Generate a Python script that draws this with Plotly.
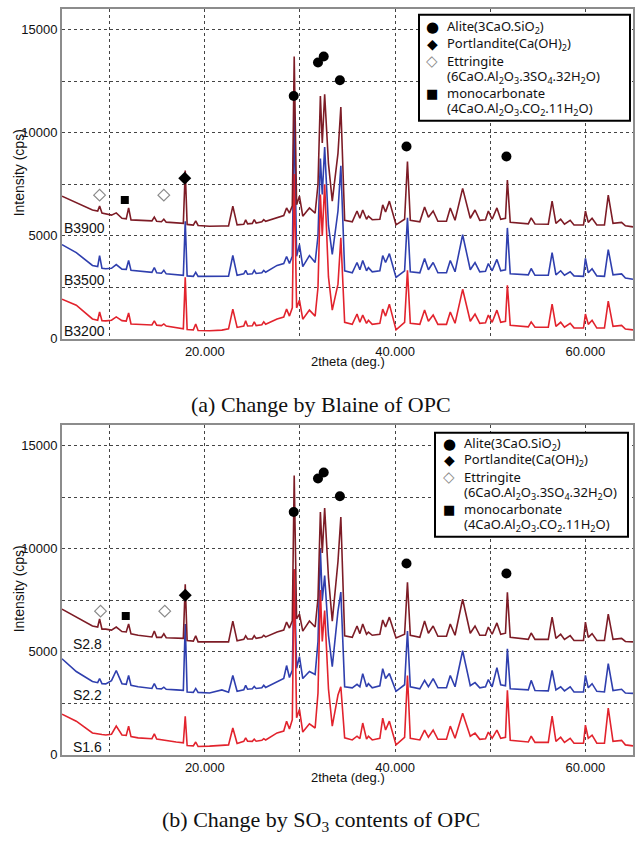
import plotly.graph_objects as go

# ---------------- data ----------------
two_theta = [5.0, 6.5, 8.2, 8.75, 8.95, 9.2, 9.6, 10.2, 10.7, 11.3, 11.75, 12.0, 12.25, 13.0,
             14.45, 14.7, 14.95, 15.45, 15.7, 15.95, 17.0, 17.75, 17.95, 18.15, 18.8, 19.05,
             19.3, 20.5, 21.8, 22.5, 22.95, 23.4, 24.1, 24.3, 24.5, 25.0, 25.2, 25.4, 26.0,
             26.2, 26.4, 27.6, 28.3, 28.6, 28.9, 29.2, 29.4, 29.65, 29.95, 30.3, 31.0, 31.6,
             31.9, 32.15, 32.35, 32.6, 33.0, 33.4, 34.0, 34.3, 34.7, 35.5, 36.0, 36.3, 36.6,
             37.0, 37.2, 37.6, 38.4, 38.7, 39.0, 39.4, 40.1, 41.0, 41.3, 41.6, 42.6, 43.1,
             43.5, 44.0, 44.5, 45.4, 45.8, 46.3, 47.1, 47.9, 48.4, 48.9, 49.5, 49.8, 50.2,
             50.7, 51.1, 51.6, 51.8, 52.1, 54.0, 54.3, 54.7, 56.1, 56.5, 56.9, 57.4, 57.8,
             58.4, 58.8, 59.8, 60.0, 60.3, 60.7, 61.2, 62.0, 62.4, 62.9, 63.8, 64.2, 65.0]

b3900 = [6920, 6590, 6250, 6200, 6440, 6100, 6050, 6000, 6110, 5850, 5820, 6350, 5770, 5760,
         5720, 5910, 5700, 5680, 5800, 5660, 5630, 5600, 8170, 5550, 5520, 5720,
         5500, 5460, 5470, 5480, 6440, 5530, 5560, 5770, 5580, 5600, 5780, 5620, 5680,
         5780, 5700, 5870, 5980, 6350, 6100, 6450, 13700, 6500, 6920, 5950, 6350, 6100,
         7500, 11780, 9500, 11870, 8500, 6680, 9000, 11250, 5750, 5680, 6200, 5850, 6250,
         5800, 5950, 5780, 5800, 6500, 6150, 6680, 5530, 5800, 8600, 5750, 5680, 6400,
         5900, 6200, 5700, 5700, 6350, 5750, 7300, 5850, 6250, 5750, 5780, 6200, 5800,
         6350, 5800, 5850, 7700, 5650, 5580, 5870, 5570, 5560, 6680, 5600, 5800, 5560,
         5750, 5520, 5520, 6200, 5650, 5850, 5520, 5520, 6970, 5600, 5650, 5480, 5430]

b3500 = [4570, 4180, 3560, 3500, 4040, 3420, 3400, 3420, 3600, 3380, 3370, 3800, 3320, 3280,
         3220, 3460, 3200, 3180, 3320, 3150, 3100, 3080, 5700, 3050, 3030, 3220,
         3030, 3020, 3030, 3040, 4040, 3080, 3150, 3320, 3130, 3150, 3320, 3170, 3200,
         3320, 3230, 3560, 3650, 3990, 3650, 4000, 11100, 4000, 4570, 3500, 4040, 3700,
         5000, 8750, 7000, 9300, 5500, 4090, 6200, 8400, 3300, 3200, 3700, 3350, 3800,
         3300, 3450, 3250, 3300, 4040, 3700, 4130, 2980, 3300, 5870, 3250, 3200, 3900,
         3350, 3700, 3200, 3200, 3800, 3250, 5050, 3350, 3700, 3250, 3280, 3650, 3300,
         3850, 3300, 3350, 5380, 3150, 3100, 3410, 3080, 3080, 4180, 3100, 3300, 3080,
         3250, 3050, 3030, 3900, 3200, 3400, 3050, 3030, 4330, 3100, 3150, 2950, 2890]

b3200 = [1920, 1630, 960, 900, 1300, 880, 870, 900, 1060, 880, 860, 1250, 720, 700,
         670, 870, 660, 640, 720, 620, 520, 480, 2980, 450, 430, 720,
         400, 390, 420, 480, 1440, 550, 620, 870, 620, 630, 820, 640, 680,
         820, 700, 960, 1050, 1440, 1100, 1500, 8000, 1500, 1870, 950, 1390, 1100,
         2500, 7000, 5000, 7500, 3000, 1390, 2650, 4900, 800, 700, 1200, 800, 1150,
         750, 900, 700, 750, 1440, 1100, 1680, 430, 800, 3320, 750, 700, 1390,
         850, 1150, 700, 700, 1300, 750, 2400, 850, 1200, 750, 780, 1150, 800,
         1390, 800, 850, 2600, 650, 580, 820, 560, 560, 1680, 600, 800, 560,
         750, 530, 520, 1200, 700, 900, 520, 520, 1830, 600, 650, 470, 430]

s28 = [7070, 6680, 6250, 6200, 6590, 6100, 6100, 6050, 6200, 5980, 5960, 6350, 5870, 5800,
       5720, 6010, 5700, 5700, 5870, 5680, 5650, 5650, 8270, 5550, 5520, 5770,
       5480, 5470, 5480, 5480, 6490, 5530, 5600, 5770, 5620, 5620, 5780, 5650, 5700,
       5800, 5720, 5960, 6050, 6440, 6150, 6500, 13560, 6600, 6830, 6000, 6490, 6200,
       7600, 11780, 9800, 11970, 8600, 6490, 9380, 11540, 5770, 5700, 6250, 5880, 6350,
       5850, 5950, 5800, 5850, 6540, 6200, 6680, 5670, 5850, 8370, 5800, 5700, 6490,
       5900, 6250, 5750, 5750, 6350, 5800, 7550, 5900, 6250, 5800, 5800, 6200, 5850,
       6400, 5850, 5900, 7890, 5700, 5600, 5910, 5600, 5600, 6680, 5650, 5850, 5600,
       5780, 5550, 5550, 6440, 5700, 5880, 5550, 5550, 6830, 5600, 5650, 5500, 5480]

s22 = [4660, 4040, 3560, 3500, 3700, 3450, 3440, 3600, 4090, 3450, 3420, 3850, 3370, 3300,
       3220, 3460, 3220, 3200, 3280, 3180, 3150, 3130, 6350, 3050, 3030, 3220,
       3030, 3000, 3150, 3040, 3850, 3080, 3150, 3370, 3180, 3200, 3320, 3220, 3250,
       3370, 3270, 3560, 3700, 4330, 3750, 4100, 9000, 4200, 4760, 3700, 4040, 3900,
       5500, 10000, 7500, 8700, 5800, 4280, 6970, 7900, 3300, 3250, 3420, 3300, 3940,
       3300, 3450, 3250, 3350, 4180, 3700, 3940, 3080, 3400, 6010, 3300, 3200, 3610,
       3300, 3700, 3250, 3250, 3850, 3300, 5050, 3350, 3500, 3250, 3300, 3650, 3300,
       4230, 3400, 3350, 5140, 3200, 3150, 3610, 3120, 3100, 4090, 3150, 3300, 3100,
       3300, 3050, 3050, 3850, 3250, 3450, 3080, 3050, 4420, 3120, 3180, 3000, 2980]

s16 = [1970, 1630, 1060, 1000, 1000, 980, 960, 1000, 1390, 960, 940, 1390, 880, 820,
       780, 1010, 760, 720, 720, 700, 620, 580, 1870, 450, 430, 620,
       400, 420, 460, 480, 1300, 550, 650, 820, 660, 650, 760, 660, 700,
       780, 720, 1060, 1150, 1630, 1250, 1700, 9000, 1800, 2200, 1100, 1500, 1300,
       3000, 8000, 5500, 7000, 3200, 1390, 2900, 3300, 820, 720, 900, 780, 1540,
       760, 900, 720, 800, 1780, 1200, 1630, 480, 850, 3850, 800, 720, 1200,
       850, 1200, 750, 750, 1390, 800, 2020, 900, 1050, 750, 780, 1100, 800,
       1200, 800, 850, 3130, 700, 620, 900, 600, 600, 1870, 650, 850, 600,
       800, 560, 560, 1440, 800, 950, 560, 560, 2260, 650, 700, 480, 430]

# phase markers (2theta, intensity)
alite_a_x = [29.35, 31.9, 32.5, 34.2, 41.2, 51.7]
alite_a_y = [11780, 13410, 13700, 12550, 9330, 8850]
alite_b_x = [29.35, 31.9, 32.5, 34.2, 41.2, 51.7]
alite_b_y = [11780, 13410, 13700, 12550, 9280, 8800]
portlandite_a_x, portlandite_a_y = [17.9], [7790]
portlandite_b_x, portlandite_b_y = [17.95], [7740]
ettringite_a_x, ettringite_a_y = [8.95, 15.7], [6970, 6970]
ettringite_b_x, ettringite_b_y = [9.05, 15.8], [6970, 6970]
monocarb_a_x, monocarb_a_y = [11.6], [6730]
monocarb_b_x, monocarb_b_y = [11.7], [6730]

x_tick_vals = [20, 40, 60]
x_tick_text = ["20.000", "40.000", "60.000"]
x_minor_grid = [10, 30, 50]
y_tick_vals = [0, 5000, 10000, 15000]
y_tick_text = ["0", "5000", "10000", "15000"]
y_minor_grid = [2500, 7500, 12500]

legend_lines = ["Alite(3CaO.SiO<sub>2</sub>)",
                "Portlandite(Ca(OH)<sub>2</sub>)",
                "Ettringite",
                "(6CaO.Al<sub>2</sub>O<sub>3</sub>.3SO<sub>4</sub>.32H<sub>2</sub>O)",
                "monocarbonate",
                "(4CaO.Al<sub>2</sub>O<sub>3</sub>.CO<sub>2</sub>.11H<sub>2</sub>O)"]

# ---------------- styling ----------------
W, H = 639, 843
MAROON = "#7d1c26"
BLUE = "#2f3fae"
RED = "#e2232d"
SANS = "Liberation Sans, Arial, sans-serif"
LEG_FONT = "Noto Sans, sans-serif"
SERIF = "Liberation Serif, Times New Roman, serif"


def pxx(x):
    return x / W


def pyy(y):
    return 1 - y / H


fig = go.Figure()

panels = [
    dict(xa="x", ya="y",
         series=[("B3500", b3500, BLUE), ("B3200", b3200, RED), ("B3900", b3900, MAROON)],
         labels=[("B3900", 5.05, 5385), ("B3500", 5.05, 2840), ("B3200", 5.05, 385)],
         alite=(alite_a_x, alite_a_y), port=(portlandite_a_x, portlandite_a_y),
         ett=(ettringite_a_x, ettringite_a_y), mono=(monocarb_a_x, monocarb_a_y),
         leg_box=(419, 15, 630, 122), leg_sym_x=432, leg_txt_x=445,
         leg_y=[27, 44, 62, 78, 94, 110],
         ytitle_y=175, xtitle_y=365,
         caption="(a) Change by Blaine of OPC", cap_y=408),
    dict(xa="x2", ya="y2",
         series=[("S2.2", s22, BLUE), ("S1.6", s16, RED), ("S2.8", s28, MAROON)],
         labels=[("S2.8", 5.9, 5385), ("S2.2", 5.9, 2885), ("S1.6", 5.9, 385)],
         alite=(alite_b_x, alite_b_y), port=(portlandite_b_x, portlandite_b_y),
         ett=(ettringite_b_x, ettringite_b_y), mono=(monocarb_b_x, monocarb_b_y),
         leg_box=(435, 437, 628, 542), leg_sym_x=449, leg_txt_x=462,
         leg_y=[448, 464, 482, 498, 514, 530],
         ytitle_y=595, xtitle_y=785,
         caption="(b) Change by SO<sub>3</sub> contents of OPC", cap_y=829),
]

annotations = []
shapes = []

for i, p in enumerate(panels):
    for name, ys, col in p["series"]:
        fig.add_trace(go.Scatter(x=two_theta, y=ys, mode="lines", name=name,
                                 line=dict(color=col, width=1.6),
                                 xaxis=p["xa"], yaxis=p["ya"], showlegend=False,
                                 hoverinfo="skip"))
    fig.add_trace(go.Scatter(x=p["alite"][0], y=p["alite"][1], mode="markers",
                             marker=dict(symbol="circle", size=10, color="black"),
                             xaxis=p["xa"], yaxis=p["ya"], showlegend=False))
    fig.add_trace(go.Scatter(x=p["port"][0], y=p["port"][1], mode="markers",
                             marker=dict(symbol="diamond", size=10, color="black"),
                             xaxis=p["xa"], yaxis=p["ya"], showlegend=False))
    fig.add_trace(go.Scatter(x=p["ett"][0], y=p["ett"][1], mode="markers",
                             marker=dict(symbol="diamond-open", size=9, color="#8a8a8a",
                                         line=dict(width=1.2, color="#8a8a8a")),
                             xaxis=p["xa"], yaxis=p["ya"], showlegend=False))
    fig.add_trace(go.Scatter(x=p["mono"][0], y=p["mono"][1], mode="markers",
                             marker=dict(symbol="square", size=8, color="black"),
                             xaxis=p["xa"], yaxis=p["ya"], showlegend=False))

    for txt, lx, ly in p["labels"]:
        annotations.append(dict(text=txt, x=lx, y=ly, xref=p["xa"], yref=p["ya"],
                                xanchor="left", yanchor="middle", showarrow=False,
                                font=dict(family=SANS, size=14, color="#111")))

    # legend box
    x0, y0, x1, y1 = p["leg_box"]
    shapes.append(dict(type="rect", xref="paper", yref="paper",
                       x0=pxx(x0), x1=pxx(x1), y0=pyy(y1), y1=pyy(y0),
                       line=dict(color="black", width=2), fillcolor="white", layer="above"))
    syms = [("●", "black", 15), ("◆", "black", 14), ("◇", "#8a8a8a", 15), None,
            ("■", "black", 13), None]
    for k, line_txt in enumerate(legend_lines):
        annotations.append(dict(text=line_txt, x=pxx(p["leg_txt_x"]), y=pyy(p["leg_y"][k]),
                                xref="paper", yref="paper", xanchor="left", yanchor="middle",
                                showarrow=False,
                                font=dict(family=LEG_FONT, size=13, color="#111")))
        if syms[k] is not None:
            s, c, fs = syms[k]
            annotations.append(dict(text=s, x=pxx(p["leg_sym_x"]), y=pyy(p["leg_y"][k]),
                                    xref="paper", yref="paper", xanchor="center",
                                    yanchor="middle", showarrow=False,
                                    font=dict(family="DejaVu Sans", size=fs, color=c)))

    annotations.append(dict(text="Intensity (cps)", x=pxx(19), y=pyy(p["ytitle_y"]),
                            xref="paper", yref="paper", textangle=-90, showarrow=False,
                            xanchor="center", yanchor="middle",
                            font=dict(family=SANS, size=14, color="#111")))
    annotations.append(dict(text="2theta (deg.)", x=pxx(348), y=pyy(p["xtitle_y"]),
                            xref="paper", yref="paper", showarrow=False,
                            xanchor="center", yanchor="middle",
                            font=dict(family=SANS, size=13, color="#111")))
    annotations.append(dict(text=p["caption"], x=pxx(321), y=pyy(p["cap_y"]),
                            xref="paper", yref="paper", showarrow=False,
                            xanchor="center", yanchor="middle",
                            font=dict(family=SERIF, size=22, color="#111")))

grid_style = dict(showgrid=True, gridcolor="#444", griddash="dot", gridwidth=1)
axis_common_x = dict(range=[5, 65], tickvals=x_tick_vals, ticktext=x_tick_text,
                     minor=dict(tickvals=x_minor_grid, ticks="", **grid_style),
                     showline=True, linecolor="#8c8c8c", linewidth=2, mirror=True,
                     ticks="", zeroline=False,
                     tickfont=dict(family=SANS, size=13, color="#111"), **grid_style)
axis_common_y = dict(range=[0, 16010], tickvals=y_tick_vals, ticktext=y_tick_text,
                     minor=dict(tickvals=y_minor_grid, ticks="", **grid_style),
                     showline=True, linecolor="#8c8c8c", linewidth=2, mirror=True,
                     ticks="", zeroline=False,
                     tickfont=dict(family=SANS, size=13, color="#111"), **grid_style)

xdom = [pxx(62), pxx(633)]
fig.update_layout(
    width=W, height=H,
    margin=dict(l=0, r=0, t=0, b=0),
    paper_bgcolor="white", plot_bgcolor="white",
    showlegend=False,
    xaxis=dict(domain=xdom, anchor="y", **axis_common_x),
    yaxis=dict(domain=[pyy(342), pyy(9)], anchor="x", **axis_common_y),
    xaxis2=dict(domain=xdom, anchor="y2", **axis_common_x),
    yaxis2=dict(domain=[pyy(762), pyy(429)], anchor="x2", **axis_common_y),
    annotations=annotations,
    shapes=shapes,
)

fig.write_html("out.html", config={"displayModeBar": False},
               post_script="document.body.style.margin='0';document.body.style.padding='0';")
